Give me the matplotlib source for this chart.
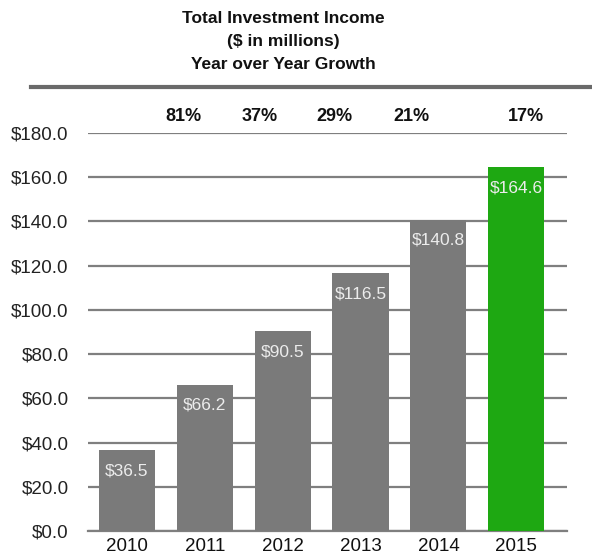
import matplotlib.pyplot as plt
from matplotlib.lines import Line2D

plt.rcParams['font.family'] = ['Liberation Sans', 'DejaVu Sans']

years = ['2010', '2011', '2012', '2013', '2014', '2015']
income = [36.5, 66.2, 90.5, 116.5, 140.8, 164.6]
growth = ['81%', '37%', '29%', '21%', '17%']
growth_x = [0.72, 1.7, 2.66, 3.66, 5.13]  # label centres in bar units
bar_colors = ['#7a7a7a'] * 5 + ['#1ea812']
y_ticks = [0, 20, 40, 60, 80, 100, 120, 140, 160, 180]

fig = plt.figure(figsize=(5.92, 5.56), dpi=100)
ax = fig.add_axes([0.1486, 0.045, 0.809, 0.716])

x = list(range(len(years)))
ax.bar(x, income, width=0.72, color=bar_colors, zorder=3)

for xi, v in zip(x, income):
    ax.annotate(f'${v:.1f}', (xi, v), xytext=(0, -15), textcoords='offset points',
                ha='center', va='center', color='#ececec', fontsize=12.5, zorder=4)

ax.set_xlim(-0.5, 5.65)
ax.set_ylim(0, 180)
ax.set_yticks(y_ticks)
ax.set_yticklabels([f'${t:.1f}' for t in y_ticks], fontsize=13.5, color='#222222')
ax.set_xticks(x)
ax.set_xticklabels(years, fontsize=13.5, color='#111111')
ax.tick_params(axis='y', length=0, pad=14)
ax.tick_params(axis='x', length=0, pad=5)
ax.yaxis.grid(True, color='#7f7f7f', linewidth=1.6, zorder=0)
ax.axhline(0, color='#7f7f7f', linewidth=1.6, zorder=2, clip_on=False)
for s in ax.spines.values():
    s.set_visible(False)

for gx, g in zip(growth_x, growth):
    ax.annotate(g, (gx, 1.0), xycoords=ax.get_xaxis_transform(), xytext=(0, 6),
                textcoords='offset points', ha='center', va='bottom',
                fontsize=13, fontweight='bold', color='#111111')

for ty, line in zip([0.966, 0.925, 0.884],
                    ['Total Investment Income', '($ in millions)', 'Year over Year Growth']):
    fig.text(0.478, ty, line, ha='center', va='center',
             fontsize=12.5, fontweight='bold', color='#111111')

fig.add_artist(Line2D([0.052, 1.0], [0.843, 0.843], color='#6a6a6a', linewidth=3))

fig.savefig('out.png', dpi=100)
